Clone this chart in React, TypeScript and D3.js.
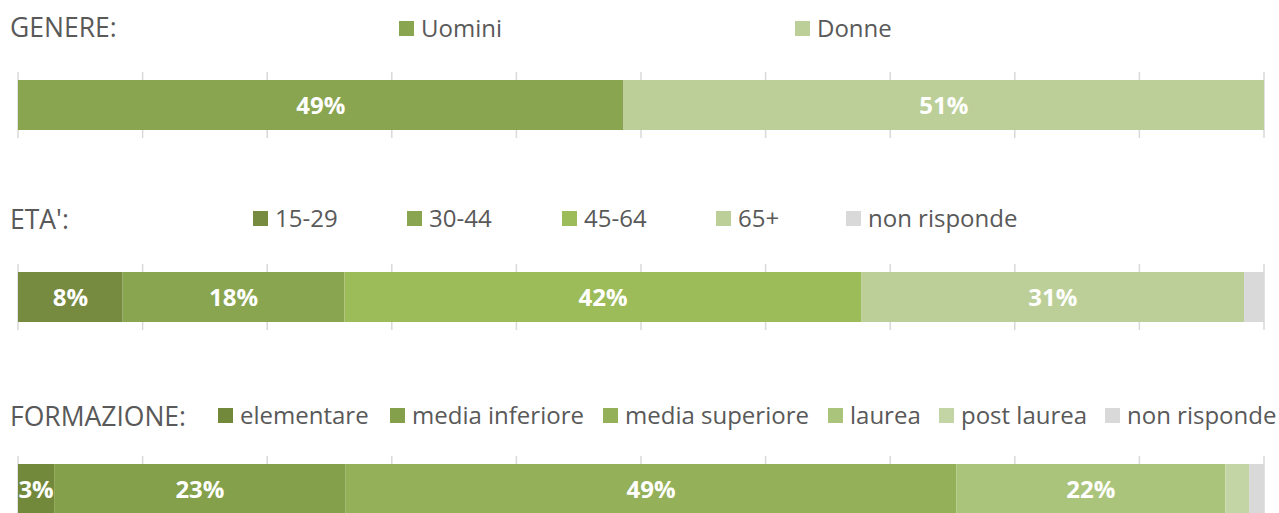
import React from "react";
import { scaleLinear, range, cumsum } from "d3";

// --- data (percent) ---
const genereTitle = "GENERE:";
const genereLabels = ["Uomini", "Donne"];
const genereValues = [48.6, 51.4];
const genereColors = ["#8aa54f", "#bccf98"];

const etaTitle = "ETA':";
const etaLabels = ["15-29", "30-44", "45-64", "65+", "non risponde"];
const etaValues = [8.4, 17.8, 41.5, 30.7, 1.6];
const etaColors = ["#768a40", "#8aa54f", "#9cbb59", "#bccf98", "#d9d9d9"];

const formTitle = "FORMAZIONE:";
const formLabels = ["elementare", "media inferiore", "media superiore", "laurea", "post laurea", "non risponde"];
const formValues = [2.9, 23.4, 49.0, 21.6, 1.9, 1.2];
const formColors = ["#72893c", "#84a04a", "#94b058", "#abc47c", "#c3d4a5", "#d9d9d9"];

// --- layout ---
const width = 1279,
  height = 513,
  barHeight = 50,
  fontFamily = "'Open Sans', 'DejaVu Sans', sans-serif",
  textColor = "#595959";

const x = scaleLinear().domain([0, 100]).range([18, 1264]);

const panels = [
  { title: genereTitle, labels: genereLabels, values: genereValues, colors: genereColors, titleY: 37, legendY: 37, legendX: [399, 795], barY: 80 },
  { title: etaTitle, labels: etaLabels, values: etaValues, colors: etaColors, titleY: 229, legendY: 227, legendX: [253, 407, 562, 716, 846], barY: 272 },
  { title: formTitle, labels: formLabels, values: formValues, colors: formColors, titleY: 426, legendY: 424, legendX: [218, 390, 603, 828, 939, 1105], barY: 464 },
];

function StackedBar({ p }) {
  const ends = Array.from(cumsum(p.values));
  const starts = ends.map((e, i) => e - p.values[i]);
  return (
    <g>
      <text x={10} y={p.titleY} fontSize={26.5} fill={textColor} fontFamily={fontFamily}>
        {p.title}
      </text>
      {p.labels.map((l, i) => (
        <g key={l} transform={`translate(${p.legendX[i]},${p.legendY})`}>
          <rect x={0} y={-16} width={15} height={15} fill={p.colors[i]} />
          <text x={22} y={0} fontSize={24} fill={textColor} fontFamily={fontFamily}>
            {l}
          </text>
        </g>
      ))}
      {range(0, 101, 10).map((t) => (
        <line
          key={t}
          x1={x(t)}
          x2={x(t)}
          y1={p.barY - 8}
          y2={p.barY + barHeight + 8}
          stroke="#d9d9d9"
          strokeWidth={1.5}
        />
      ))}
      {p.values.map((v, i) => (
        <rect
          key={i}
          x={x(starts[i])}
          y={p.barY}
          width={x(ends[i]) - x(starts[i])}
          height={barHeight}
          fill={p.colors[i]}
        />
      ))}
      {p.values.map((v, i) =>
        v >= 2.5 ? (
          <text
            key={"l" + i}
            x={(x(starts[i]) + x(ends[i])) / 2}
            y={p.barY + barHeight / 2 + 8.5}
            textAnchor="middle"
            fontSize={24}
            fontWeight="bold"
            fill="#ffffff"
            fontFamily={fontFamily}
          >
            {Math.round(v)}%
          </text>
        ) : null
      )}
    </g>
  );
}

export default function App() {
  return (
    <svg
      width={width}
      height={height}
      style={{ position: "absolute", left: 0, top: 0, background: "#ffffff" }}
    >
      {panels.map((p) => (
        <StackedBar key={p.title} p={p} />
      ))}
    </svg>
  );
}
